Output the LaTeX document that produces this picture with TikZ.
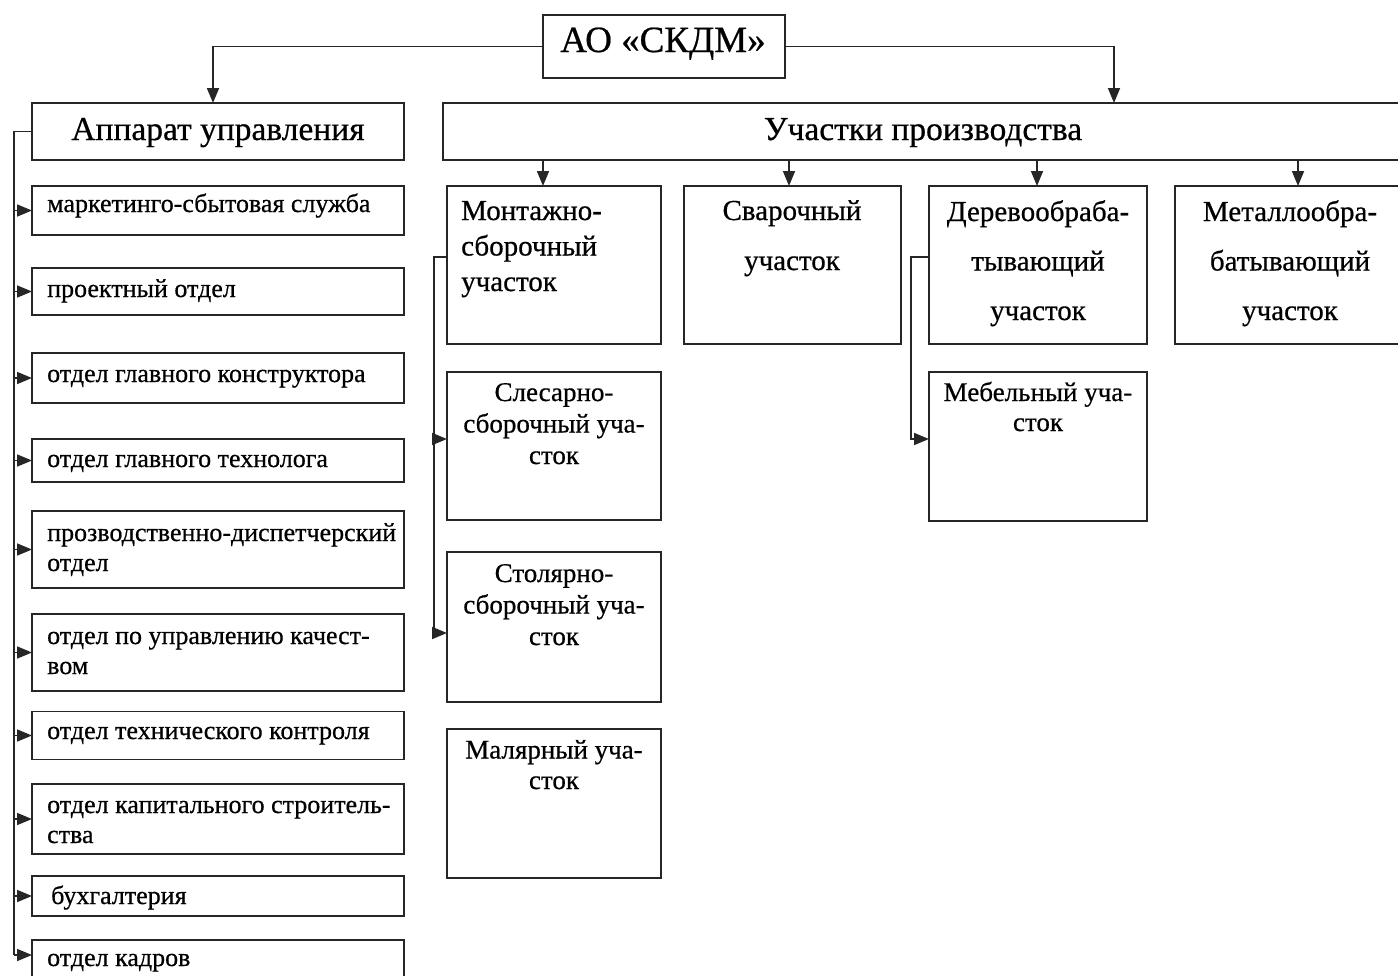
\documentclass[tikz,border=0pt]{standalone}
\usepackage{fontspec}
\setmainfont{Liberation Serif}[RawFeature={embolden=0.6}]
\usetikzlibrary{arrows.meta,calc}
\newcommand{\fz}[2]{\fontsize{#1}{#2}\selectfont}
\begin{document}
\begin{tikzpicture}[x=1pt,y=-1pt,
  box/.style={draw=black!85,line width=1.8pt,rectangle,inner sep=0pt,outer sep=0pt},
  conn/.style={draw=black!85,line width=1.7pt},
  arr/.style={conn,-{Triangle[length=15pt,width=12pt]}},
  ltxt/.style={anchor=base west,inner sep=0pt,font=\fz{26}{30},align=left},
  ctxt/.style={anchor=base,inner sep=0pt,align=center}]
\useasboundingbox (0,0) rectangle (1398,975);
% top
\node[box,minimum width=242pt,minimum height=63pt] (top) at (664,46.5) {};
\node[anchor=base,inner sep=0pt,font=\fz{37}{40}] (topt) at (663,52) {АО «СКДМ»};
% level 2
\node[box,minimum width=372pt,minimum height=57pt] (app) at (218,131.5) {};
\node[anchor=base,inner sep=0pt,font=\fz{33.5}{36}] (appt) at (218,140) {Аппарат управления};
\node[box,minimum width=960pt,minimum height=57pt] (uch) at (923,131.5) {};
\node[anchor=base,inner sep=0pt,font=\fz{33.5}{36}] (ucht) at (923,140) {Участки производства};
\coordinate (appin) at (213,103);
\coordinate (uchin) at (1114,103);
\draw[arr] (top.west) -| (appin);
\draw[arr] (top.east) -| (uchin);
% left column
\node[box,minimum width=372pt,minimum height=49pt] (l1) at (218,210.5) {};
\node[box,minimum width=372pt,minimum height=47pt] (l2) at (218,291.5) {};
\node[box,minimum width=372pt,minimum height=50pt] (l3) at (218,378) {};
\node[box,minimum width=372pt,minimum height=43pt] (l4) at (218,460.5) {};
\node[box,minimum width=372pt,minimum height=77pt] (l5) at (218,549.5) {};
\node[box,minimum width=372pt,minimum height=77pt] (l6) at (218,652.5) {};
\node[box,minimum width=372pt,minimum height=48pt] (l7) at (218,735.5) {};
\node[box,minimum width=372pt,minimum height=70pt] (l8) at (218,819) {};
\node[box,minimum width=372pt,minimum height=40pt] (l9) at (218,896) {};
\node[box,minimum width=372pt,minimum height=50pt] (l10) at (218,965) {};
\node[ltxt] (l1t) at (47,212) {маркетинго-сбытовая служба};
\node[ltxt] (l2t) at (47,297) {проектный отдел};
\node[ltxt] (l3t) at (47,382) {отдел главного конструктора};
\node[ltxt] (l4t) at (47,467) {отдел главного технолога};
\node[ltxt] (l5t) at (47,571) {прозводственно-диспетчерский\\отдел};
\node[ltxt] (l6t) at (47,674) {отдел по управлению качест-\\вом};
\node[ltxt] (l7t) at (47,739) {отдел технического контроля};
\node[ltxt] (l8t) at (47,843) {отдел капитального строитель-\\ства};
\node[ltxt] (l9t) at (51,904) {бухгалтерия};
\node[ltxt] (l10t) at (47,966) {отдел кадров};
\coordinate (lbus) at (14,955);
\draw[conn] (app.west) -| (lbus);
\foreach \n in {l1,l2,l3,l4,l5,l6,l7,l8,l9}
  \draw[arr] (lbus |- \n.west) -- (\n.west);
\draw[arr] (lbus) -- (lbus -| l10.west);
% production sections
\node[box,minimum width=214pt,minimum height=158pt] (m1) at (554,265) {};
\node[box,minimum width=217pt,minimum height=158pt] (m2) at (792.5,265) {};
\node[box,minimum width=218pt,minimum height=158pt] (m3) at (1038,265) {};
\node[box,minimum width=230pt,minimum height=158pt] (m4) at (1290,265) {};
\node[box,minimum width=214pt,minimum height=148pt] (m5) at (554,446) {};
\node[box,minimum width=214pt,minimum height=150pt] (m6) at (554,627) {};
\node[box,minimum width=214pt,minimum height=149pt] (m7) at (554,803.5) {};
\node[box,minimum width=218pt,minimum height=149pt] (m8) at (1038,446.5) {};
\node[ltxt,font=\fz{29}{35.5}] (m1t) at (461,291) {Монтажно-\\сборочный\\участок};
\node[ctxt,font=\fz{29}{50}] (m2t) at (792,270) {Сварочный\\участок};
\node[ctxt,font=\fz{29}{49.5}] (m3t) at (1038,320) {Деревообраба-\\тывающий\\участок};
\node[ctxt,font=\fz{29}{49.5}] (m4t) at (1290,320) {Металлообра-\\батывающий\\участок};
\node[ctxt,font=\fz{27}{31.5}] (m5t) at (554,464) {Слесарно-\\сборочный уча-\\сток};
\node[ctxt,font=\fz{27}{31.5}] (m6t) at (554,645) {Столярно-\\сборочный уча-\\сток};
\node[ctxt,font=\fz{27}{30.5}] (m7t) at (554,789) {Малярный уча-\\сток};
\node[ctxt,font=\fz{27}{30}] (m8t) at (1038,431) {Мебельный уча-\\сток};
\draw[arr] ([xshift=-11pt]m1.north |- uch.south) -- ([xshift=-11pt]m1.north);
\draw[arr] ([xshift=-3.5pt]m2.north |- uch.south) -- ([xshift=-3.5pt]m2.north);
\draw[arr] ([xshift=-1pt]m3.north |- uch.south) -- ([xshift=-1pt]m3.north);
\draw[arr] ([xshift=8pt]m4.north |- uch.south) -- ([xshift=8pt]m4.north);
% sub-branches
\coordinate (m1out) at ([yshift=8pt]m1.west);
\coordinate (m5in) at ([yshift=7pt]m5.west);
\coordinate (m6in) at ([yshift=-6pt]m6.west);
\coordinate (mbus) at (434,633);
\draw[conn] (m1out) -| (mbus);
\draw[arr] (mbus) -- (m6in);
\draw[arr] (mbus |- m5in) -- (m5in);
\coordinate (m3out) at ([yshift=8pt]m3.west);
\coordinate (m8in) at ([yshift=7.5pt]m8.west);
\draw[arr] (m3out) -- ++(-18,0) |- (m8in);
\end{tikzpicture}
\end{document}
